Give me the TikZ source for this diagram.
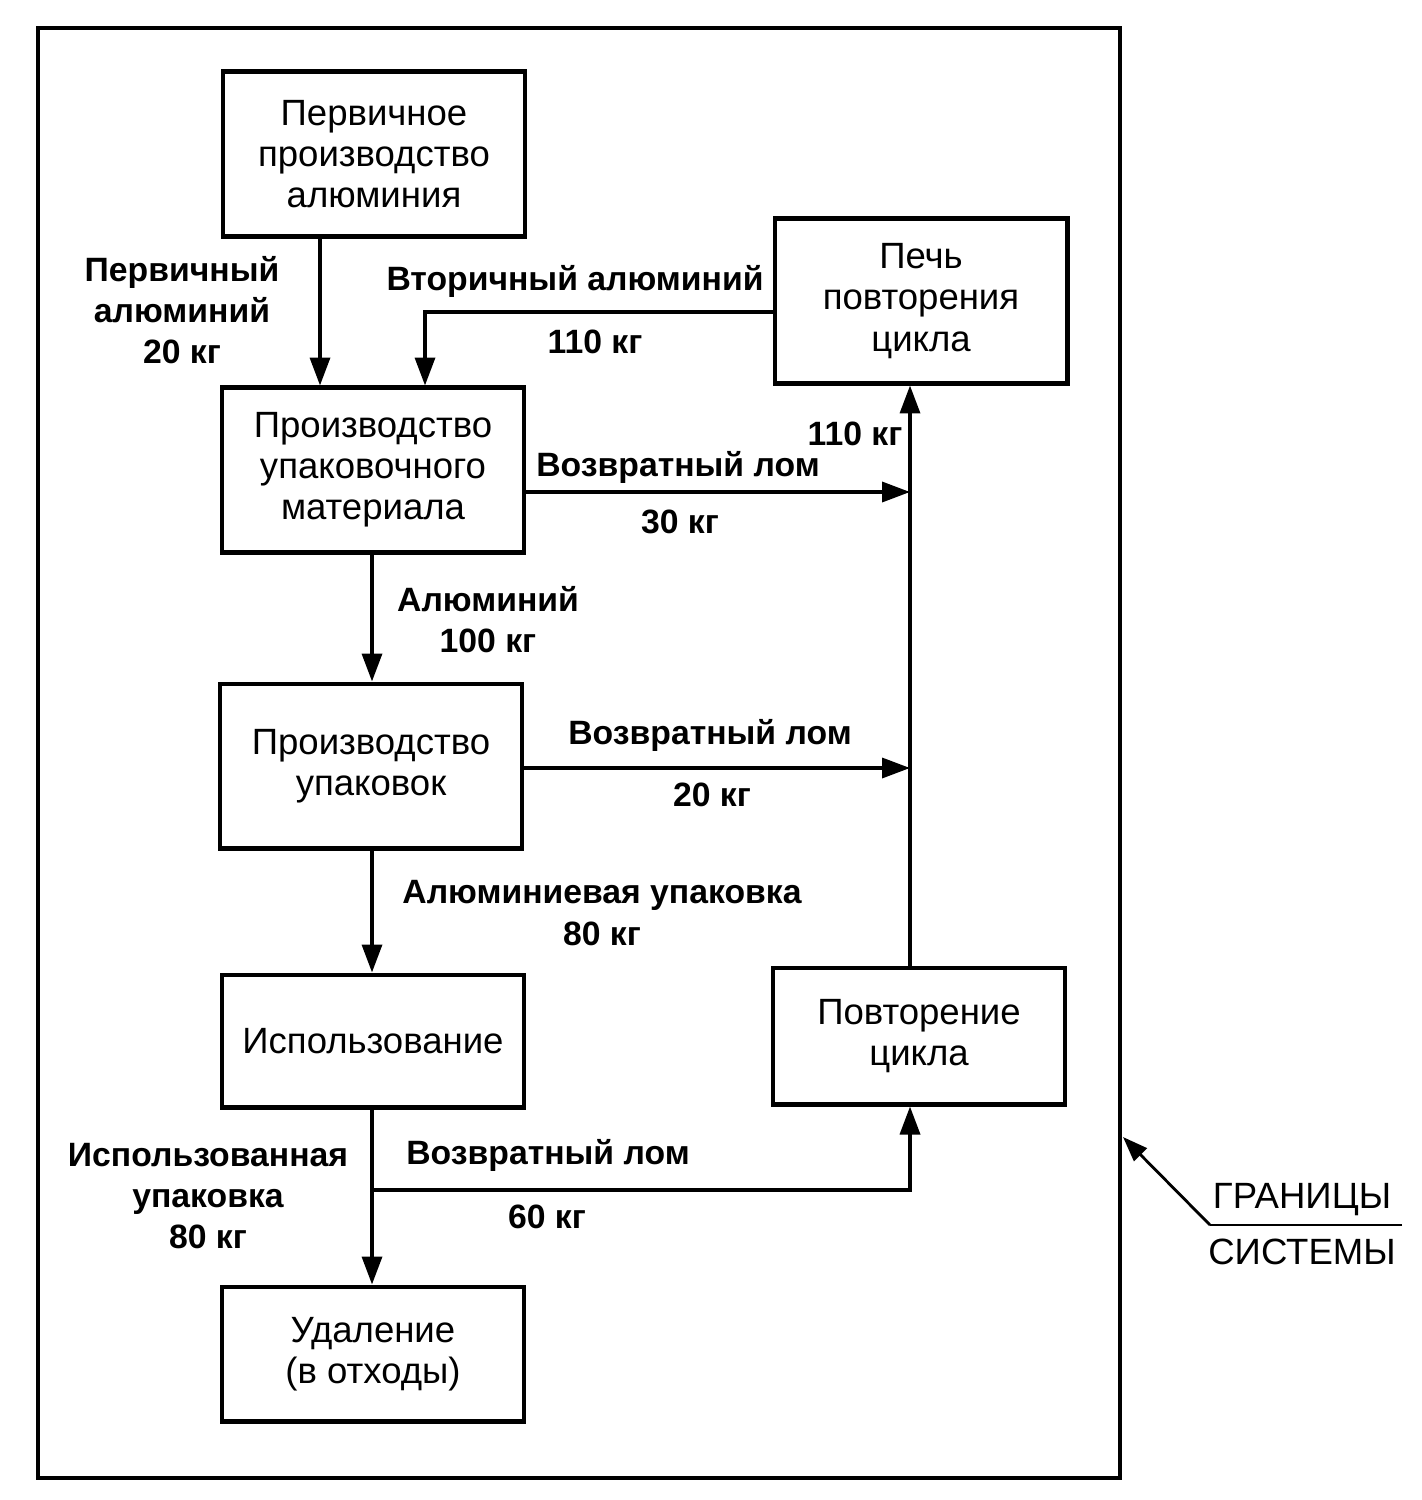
\documentclass[tikz,border=0pt]{standalone}
\usepackage{fontspec}
\setmainfont{Liberation Sans}
\usetikzlibrary{
    arrows.meta,
    positioning
}
\tikzstyle{blok} = [
    draw,
    line width=2.3pt,
    minimum width=6.04cm,
    minimum height=3.3cm,
    align=center,
    inner sep=2pt
]
\tikzstyle{arrow} = [
    line width=2pt,
    -{Triangle[length=0.56cm,width=0.4cm]}
]
\tikzstyle{label} = [
    font=\fontsize{19.2}{23.4}\selectfont\bfseries,
    align=center,
    inner sep=0pt
]
\begin{document}
\begin{tikzpicture}[x=0.02cm,y=-0.02cm,font=\fontsize{20.8}{23.4}\selectfont]
\useasboundingbox (0,0) rectangle (1422,1500);
% system boundary
\draw[line width=2.6pt] (38,28) rectangle (1120,1478);
% boxes
\node[blok]  (b1) at (374,154)  {Первичное\\производство\\алюминия};
\node[blok]  (b2) at (373,470)  {Производство\\упаковочного\\материала};
\node[blok]  (b3) at (371,766)  {Производство\\упаковок};
\node[blok, minimum height=2.66cm]  (b4) at (373,1041) {Использование};
\node[blok, minimum height=2.7cm]   (b5) at (373,1354) {Удаление\\(в отходы)};
\node[blok, minimum width=5.86cm]   (b6) at (921,301)  {Печь\\повторения\\цикла};
\node[blok, minimum width=5.84cm, minimum height=2.74cm] (b7) at (919,1036) {Повторение\\цикла};
% junctions
\coordinate (j1) at (910,492);
\coordinate (j2) at (910,768);
\coordinate (j3) at (372,1190);
% flows
\draw[arrow] (b1.south -| 320,0) -- (b2.north -| 320,0);
\draw[arrow] (b6.west |- 0,312) -| (b2.north -| 425,0);
\draw[arrow] (b2.east |- j1) -- (j1);
\draw[arrow] (b2.south -| 372,0) -- (b3.north -| 372,0);
\draw[arrow] (b3.east |- j2) -- (j2);
\draw[arrow] (b3.south -| 372,0) -- (b4.north -| 372,0);
\draw[arrow] (b4.south -| 372,0) -- (b5.north -| 372,0);
\draw[arrow] (j3) -| (b7.south -| 910,0);
\draw[arrow] (b7.north -| 910,0) -- (b6.south -| 910,0);
% labels
\node[label] (l1)  at (182,310)  {Первичный\\алюминий\\20 кг};
\node[label] (l2)  at (575,281)  {Вторичный алюминий};
\node[label] (l3)  at (595,342)  {110 кг};
\node[label] (l4)  at (855,434)  {110 кг};
\node[label] (l5)  at (678,467)  {Возвратный лом};
\node[label] (l6)  at (680,522)  {30 кг};
\node[label] (l7)  at (488,620)  {Алюминий\\100 кг};
\node[label] (l8)  at (710,735)  {Возвратный лом};
\node[label] (l9)  at (712,795)  {20 кг};
\node[label] (l10) at (602,913)  {Алюминиевая упаковка\\80 кг};
\node[label] (l11) at (208,1196) {Использованная\\упаковка\\80 кг};
\node[label] (l12) at (548,1155) {Возвратный лом};
\node[label] (l13) at (547,1217) {60 кг};
% boundary note
\node[inner sep=0pt] (g1) at (1302,1200) {ГРАНИЦЫ};
\node[inner sep=0pt] (g2) at (1302,1252) {СИСТЕМЫ};
\coordinate (k1) at (1210,1225);
\coordinate (k2) at (1402,1225);
\draw[line width=1.6pt] (k2) -- (k1);
\draw[line width=1.6pt, -{Triangle[length=0.5cm,width=0.36cm]}] (k1) -- (1123,1137);
\end{tikzpicture}
\end{document}
